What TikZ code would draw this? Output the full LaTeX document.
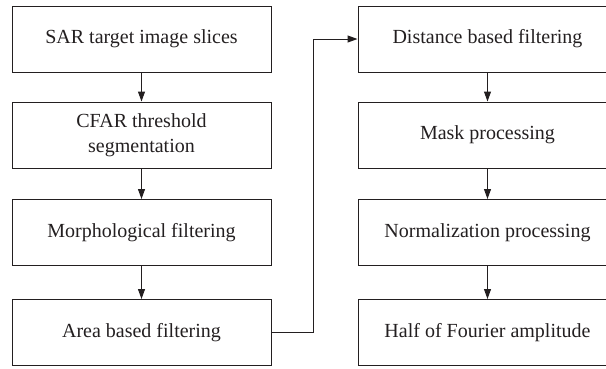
\documentclass[tikz,border=0pt]{standalone}
\usepackage{fontspec}
\setmainfont{Liberation Serif}
\usetikzlibrary{arrows.meta}
\definecolor{ink}{HTML}{231F20}
\tikzset{
  stage/.style={draw=ink, line width=1pt, minimum width=259pt, minimum height=66pt,
    inner sep=0pt, align=center, text=ink, font=\fontsize{20}{25}\selectfont},
  flow/.style={draw=ink, line width=1pt, -{Triangle[length=10pt,width=7pt]}}
}
\begin{document}
\begin{tikzpicture}[x=1pt, y=-1pt]
  \useasboundingbox (0,0) rectangle (606,368);
  \clip (0,0) rectangle (606,368);
  % left column
  \node[stage] (s1) at (141.5,39) {SAR target image slices};
  \node[stage] (s2) at (141.5,135) {CFAR threshold\\segmentation};
  \node[stage] (s3) at (141.5,232.5) {Morphological filtering};
  \node[stage] (s4) at (141.5,332.5) {Area based filtering};
  % right column
  \node[stage] (r1) at (487.5,39) {Distance based filtering};
  \node[stage] (r2) at (487.5,135) {Mask processing};
  \node[stage] (r3) at (487.5,232.5) {Normalization processing};
  \node[stage] (r4) at (487.5,332.5) {Half of Fourier amplitude};
  % connectors
  \draw[flow] (s1) -- (s2);
  \draw[flow] (s2) -- (s3);
  \draw[flow] (s3) -- (s4);
  \draw[flow] (s4.east) -- ++(42,0) |- (r1.west);
  \draw[flow] (r1) -- (r2);
  \draw[flow] (r2) -- (r3);
  \draw[flow] (r3) -- (r4);
\end{tikzpicture}
\end{document}
